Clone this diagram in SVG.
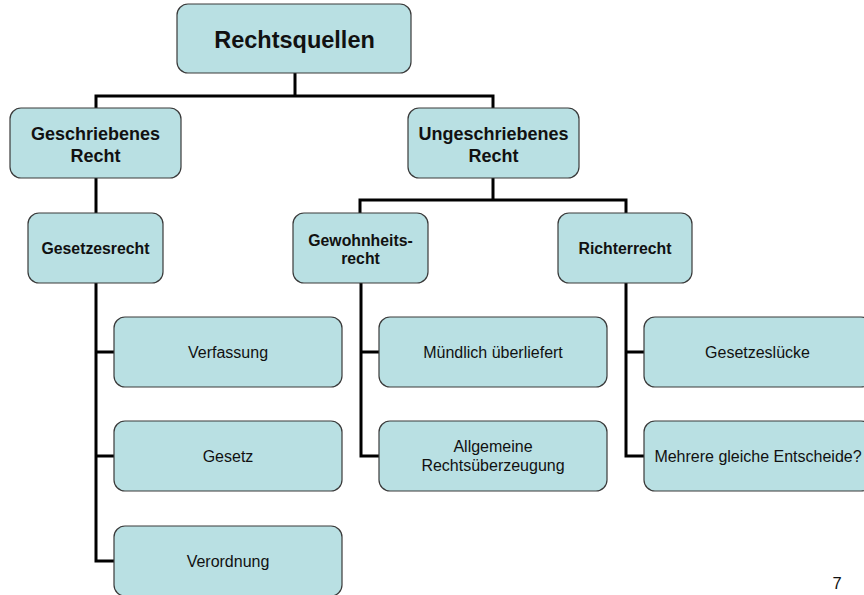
<svg xmlns="http://www.w3.org/2000/svg" width="864" height="595" viewBox="0 0 864 595">
<style>
.box{fill:#b9e0e3;stroke:#3a3a3a;stroke-width:1.2}
.t{font-family:"Liberation Sans",Arial,sans-serif;fill:#111;text-anchor:middle}
.b{font-weight:bold}
.c{fill:none;stroke:#000;stroke-width:3;stroke-linejoin:miter;stroke-linecap:square}
</style>
<rect width="864" height="595" fill="#fff"/>
<g id="connectors">
<path class="c" d="M295,74 V96 M96,107 V96 H493 V107"/>
<path class="c" d="M96,179 V212"/>
<path class="c" d="M493,179 V200 M360,212 V200 H626 V212"/>
<path class="c" d="M96,284 V561 H113 M96,352 H113 M96,456 H113"/>
<path class="c" d="M361,284 V456 H378 M361,352 H378"/>
<path class="c" d="M626,284 V456 H643 M626,352 H643"/>
</g>
<g id="rechtsquellen"><rect class="box" x="177" y="4" width="234" height="69" rx="11"/><text class="t b" x="294.5" y="48" font-size="23.5">Rechtsquellen</text></g>
<g id="geschriebenes"><rect class="box" x="10" y="108" width="171" height="70" rx="11"/><text class="t b" x="95.5" y="140" font-size="18">Geschriebenes</text><text class="t b" x="95.5" y="162" font-size="18">Recht</text></g>
<g id="ungeschriebenes"><rect class="box" x="408" y="108" width="171" height="70" rx="11"/><text class="t b" x="493.5" y="140" font-size="18">Ungeschriebenes</text><text class="t b" x="493.5" y="162" font-size="18">Recht</text></g>
<g id="gesetzesrecht"><rect class="box" x="28" y="213" width="135" height="70" rx="11"/><text class="t b" x="95.5" y="254" font-size="15.8">Gesetzesrecht</text></g>
<g id="gewohnheitsrecht"><rect class="box" x="293" y="213" width="135" height="70" rx="11"/><text class="t b" x="360.5" y="246" font-size="15.8">Gewohnheits-</text><text class="t b" x="360.5" y="264" font-size="15.8">recht</text></g>
<g id="richterrecht"><rect class="box" x="558" y="213" width="134" height="70" rx="11"/><text class="t b" x="625" y="254" font-size="15.8">Richterrecht</text></g>
<g id="verfassung"><rect class="box" x="114" y="317" width="228" height="70" rx="11"/><text class="t" x="228" y="358" font-size="16">Verfassung</text></g>
<g id="gesetz"><rect class="box" x="114" y="421" width="228" height="70" rx="11"/><text class="t" x="228" y="462" font-size="16">Gesetz</text></g>
<g id="verordnung"><rect class="box" x="114" y="526" width="228" height="70" rx="11"/><text class="t" x="228" y="567" font-size="16">Verordnung</text></g>
<g id="muendlich"><rect class="box" x="379" y="317" width="228" height="70" rx="11"/><text class="t" x="493" y="358" font-size="16">Mündlich überliefert</text></g>
<g id="allgemeine"><rect class="box" x="379" y="421" width="228" height="70" rx="11"/><text class="t" x="493" y="452" font-size="16">Allgemeine</text><text class="t" x="493" y="471" font-size="16">Rechtsüberzeugung</text></g>
<g id="gesetzesluecke"><rect class="box" x="644" y="317" width="228" height="70" rx="11"/><text class="t" x="757.5" y="358" font-size="16">Gesetzeslücke</text></g>
<g id="entscheide"><rect class="box" x="644" y="421" width="228" height="70" rx="11"/><text class="t" x="758" y="462" font-size="16">Mehrere gleiche Entscheide?</text></g>
<text class="t" x="837" y="589" font-size="16.5">7</text>
</svg>
